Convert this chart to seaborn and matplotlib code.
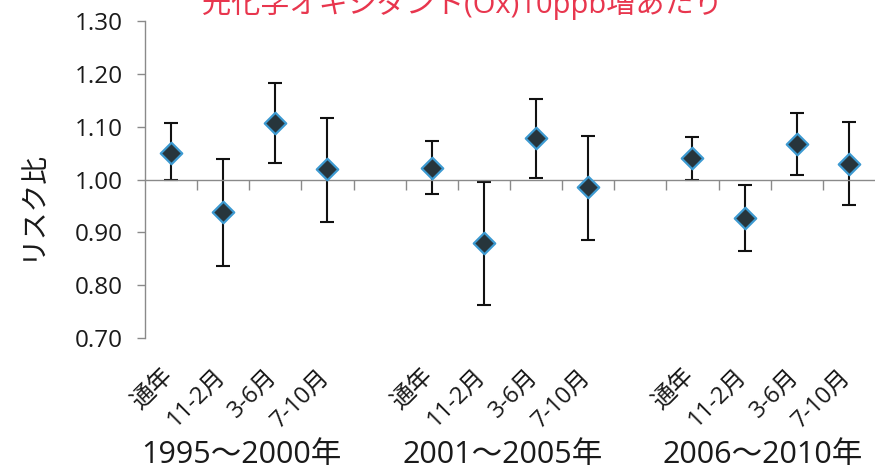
import numpy as np
import pandas as pd
import matplotlib
matplotlib.use("Agg")
import matplotlib.pyplot as plt
import matplotlib.transforms as mtransforms
import seaborn as sns

# data
periods = ["1995～2000年", "2001～2005年", "2006～2010年"]
seasons = ["通年", "11-2月", "3-6月", "7-10月"]
risk = [1.051, 0.938, 1.107, 1.019,
        1.021, 0.879, 1.078, 0.985,
        1.040, 0.928, 1.068, 1.030]
upper = [1.106, 1.038, 1.182, 1.116,
         1.072, 0.996, 1.153, 1.083,
         1.080, 0.989, 1.125, 1.108]
lower = [1.000, 0.837, 1.031, 0.920,
         0.972, 0.763, 1.002, 0.886,
         1.000, 0.864, 1.009, 0.951]
yticks = [0.70, 0.80, 0.90, 1.00, 1.10, 1.20, 1.30]

sns.set_theme(style="white")
plt.rcParams["font.family"] = ["Open Sans", "Noto Sans CJK JP", "DejaVu Sans"]

rows = []
for gi, p in enumerate(periods):
    for si, s in enumerate(seasons):
        k = gi * 4 + si
        rows.append({"period": p, "season": s, "pos": gi * 5 + si,
                     "rr": risk[k], "hi": upper[k], "lo": lower[k]})
df = pd.DataFrame(rows)

fig = plt.figure(figsize=(8.75, 4.72), dpi=100)
ax = fig.add_axes([0.1657, 0.2839, 0.8343, 0.6716])

ax.errorbar(df["pos"], df["rr"],
            yerr=[df["rr"] - df["lo"], df["hi"] - df["rr"]],
            fmt="none", ecolor="#111111", elinewidth=1.5, capsize=5, capthick=1.5, zorder=2)
sns.scatterplot(data=df, x="pos", y="rr", marker="D", s=120, color="#27353c",
                edgecolor="#3d9ad1", linewidth=1.6, ax=ax, zorder=3, legend=False)

ax.set_xlim(-0.5, 13.5)
ax.set_ylim(0.70, 1.30)
ax.set_yticks(yticks)
ax.set_yticklabels([f"{v:.2f}" for v in yticks], fontsize=17.5, color="#1a1a1a")
ax.set_xticks(np.arange(0.5, 13.5, 1.0))
ax.set_xticklabels([])
ax.set_xlabel("")
ax.set_ylabel("")

for side in ["top", "right"]:
    ax.spines[side].set_visible(False)
ax.spines["left"].set_color("#8a8a8a")
ax.spines["left"].set_linewidth(1.0)
ax.spines["bottom"].set_position(("data", 1.0))
ax.spines["bottom"].set_color("#8a8a8a")
ax.spines["bottom"].set_linewidth(1.0)
ax.tick_params(axis="y", direction="out", length=6, width=1.0, color="#8a8a8a", left=True, pad=10)
ax.tick_params(axis="x", direction="out", length=7, width=1.0, color="#8a8a8a", bottom=True)

trans = mtransforms.blended_transform_factory(ax.transData, ax.transAxes)
for _, r in df.iterrows():
    ax.text(r["pos"] - 0.03, -0.11, r["season"], transform=trans, rotation=45,
            rotation_mode="anchor", ha="right", va="center", fontsize=17, color="#1a1a1a")
for gi, p in enumerate(periods):
    ax.text(gi * 5 + 1.35, -0.37, p, transform=trans, ha="center", va="center",
            fontsize=22, color="#1a1a1a")

fig.text(0.036, 0.566, "リスク比", rotation=90, ha="center", va="center",
         fontsize=20, color="#1a1a1a")
fig.text(0.528, 0.972, "光化学オキシダント(Ox)10ppb増あたり", ha="center", va="baseline",
         fontsize=21, color="#e8364e")

fig.savefig("out.png", dpi=100)
